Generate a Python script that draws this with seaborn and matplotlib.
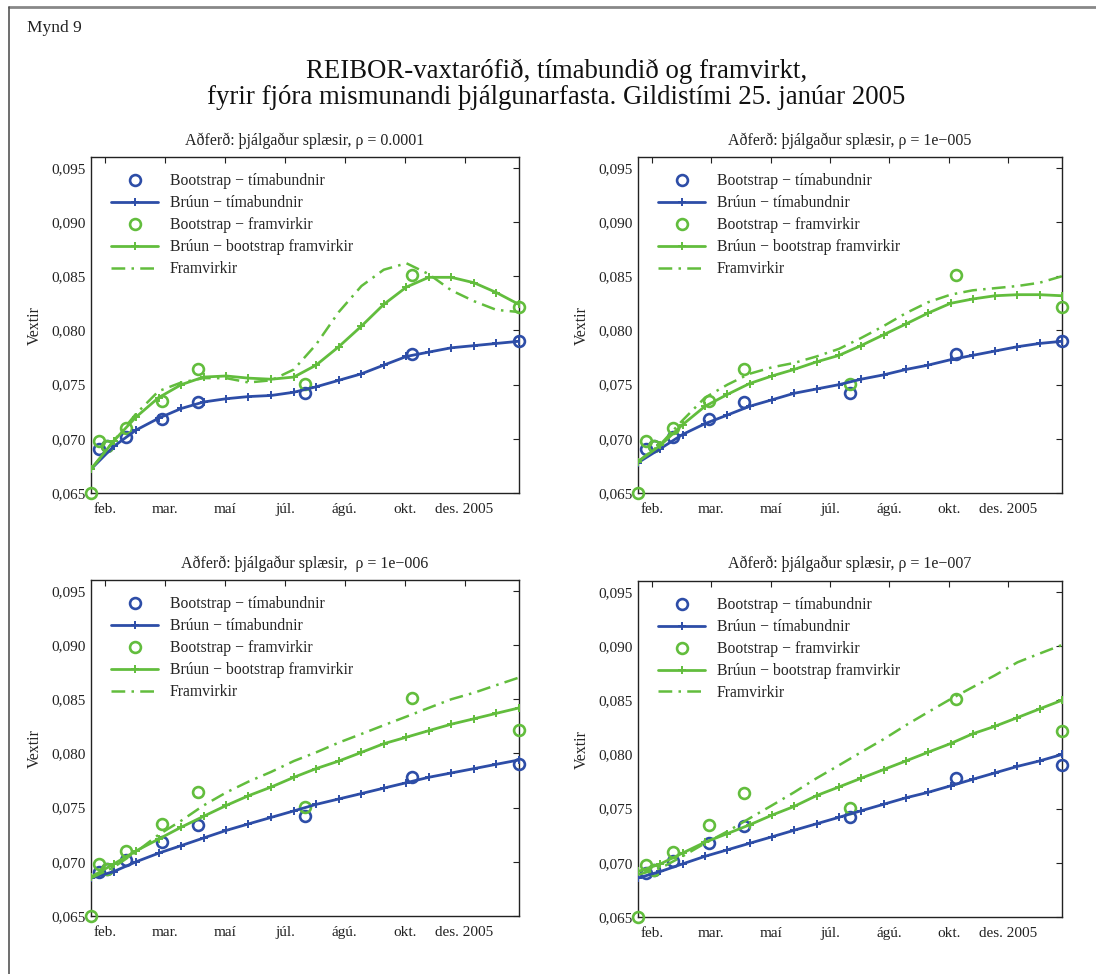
import numpy as np
import seaborn as sns
import matplotlib
matplotlib.use("Agg")
from matplotlib import pyplot as plt
from matplotlib.lines import Line2D
from matplotlib.ticker import FuncFormatter

# time axis in years from 25. jan 2005
tenor_t = [0.0, 0.019, 0.038, 0.083, 0.167, 0.25, 0.5, 0.75, 1.0]
spot_t = [0.019, 0.038, 0.083, 0.167, 0.25, 0.5, 0.75, 1.0]
grid_t = [0.0, 0.053, 0.105, 0.158, 0.211, 0.263, 0.316, 0.368, 0.421, 0.474,
          0.526, 0.579, 0.632, 0.684, 0.737, 0.789, 0.842, 0.895, 0.947, 1.0]

# bootstrap points (same in all panels)
boot_spot = [0.0691, 0.0693, 0.0702, 0.0718, 0.0734, 0.0742, 0.0778, 0.0790]
boot_fwd = [0.0650, 0.0698, 0.0693, 0.0710, 0.0735, 0.0764, 0.0751, 0.0851, 0.0822]

# rho = 0.0001
spot_fit_1 = [0.0672, 0.0693, 0.0708, 0.0719, 0.0728, 0.0734, 0.0737, 0.0739, 0.0740, 0.0743,
              0.0748, 0.0754, 0.0760, 0.0768, 0.0776, 0.0780, 0.0784, 0.0786, 0.0788, 0.0790]
fwd_fit_1 = [0.0672, 0.0698, 0.0720, 0.0738, 0.0750, 0.0757, 0.0758, 0.0756, 0.0755, 0.0757,
             0.0768, 0.0785, 0.0804, 0.0824, 0.0840, 0.0849, 0.0849, 0.0844, 0.0835, 0.0824]
fwd_curve_1 = [0.0672, 0.0698, 0.0723, 0.0744, 0.0752, 0.0756, 0.0756, 0.0752, 0.0754, 0.0764,
               0.0787, 0.0817, 0.0841, 0.0856, 0.0862, 0.0852, 0.0837, 0.0827, 0.0819, 0.0817]

# rho = 1e-005
spot_fit_2 = [0.0678, 0.0691, 0.0704, 0.0714, 0.0722, 0.0730, 0.0736, 0.0742, 0.0746, 0.0750,
              0.0755, 0.0759, 0.0764, 0.0768, 0.0773, 0.0777, 0.0781, 0.0785, 0.0788, 0.0790]
fwd_fit_2 = [0.0679, 0.0694, 0.0713, 0.0730, 0.0741, 0.0751, 0.0758, 0.0764, 0.0771, 0.0777,
             0.0786, 0.0796, 0.0806, 0.0816, 0.0825, 0.0829, 0.0832, 0.0833, 0.0833, 0.0832]
fwd_curve_2 = [0.0679, 0.0695, 0.0717, 0.0738, 0.0750, 0.0760, 0.0766, 0.0770, 0.0776, 0.0783,
               0.0793, 0.0804, 0.0816, 0.0826, 0.0833, 0.0837, 0.0839, 0.0841, 0.0844, 0.0850]

# rho = 1e-006
spot_fit_3 = [0.0685, 0.0691, 0.0700, 0.0708, 0.0715, 0.0722, 0.0729, 0.0735, 0.0741, 0.0747,
              0.0753, 0.0758, 0.0763, 0.0768, 0.0773, 0.0778, 0.0782, 0.0786, 0.0790, 0.0794]
fwd_fit_3 = [0.0686, 0.0698, 0.0710, 0.0721, 0.0732, 0.0742, 0.0752, 0.0761, 0.0769, 0.0778,
             0.0786, 0.0793, 0.0801, 0.0809, 0.0815, 0.0821, 0.0827, 0.0832, 0.0837, 0.0842]
fwd_curve_3 = [0.0685, 0.0695, 0.0709, 0.0725, 0.0738, 0.0752, 0.0764, 0.0774, 0.0783, 0.0793,
               0.0801, 0.0810, 0.0818, 0.0826, 0.0834, 0.0842, 0.0850, 0.0856, 0.0863, 0.0870]

# rho = 1e-007
spot_fit_4 = [0.0686, 0.0692, 0.0699, 0.0706, 0.0712, 0.0718, 0.0724, 0.0730, 0.0736, 0.0742,
              0.0748, 0.0754, 0.0760, 0.0765, 0.0771, 0.0777, 0.0783, 0.0789, 0.0794, 0.0800]
fwd_fit_4 = [0.0692, 0.0699, 0.0709, 0.0719, 0.0727, 0.0735, 0.0744, 0.0752, 0.0762, 0.0770,
             0.0778, 0.0786, 0.0794, 0.0802, 0.0810, 0.0819, 0.0826, 0.0834, 0.0842, 0.0850]
fwd_curve_4 = [0.0689, 0.0695, 0.0706, 0.0718, 0.0729, 0.0741, 0.0753, 0.0765, 0.0778, 0.0790,
               0.0802, 0.0814, 0.0827, 0.0839, 0.0851, 0.0862, 0.0873, 0.0885, 0.0893, 0.0901]

panel_titles = ["Aðferð: þjálgaður splæsir, ρ = 0.0001",
                "Aðferð: þjálgaður splæsir, ρ = 1e−005",
                "Aðferð: þjálgaður splæsir,  ρ = 1e−006",
                "Aðferð: þjálgaður splæsir, ρ = 1e−007"]
legend_labels = ["Bootstrap − tímabundnir", "Brúun − tímabundnir",
                 "Bootstrap − framvirkir", "Brúun − bootstrap framvirkir", "Framvirkir"]
month_ticks = [0.033, 0.173, 0.313, 0.453, 0.593, 0.733, 0.873]
month_labels = ["feb.", "mar.", "maí", "júl.", "ágú.", "okt.", "des. 2005"]
y_ticks = [0.065, 0.070, 0.075, 0.080, 0.085, 0.090, 0.095]

panels = [
    (panel_titles[0], spot_fit_1, fwd_fit_1, fwd_curve_1),
    (panel_titles[1], spot_fit_2, fwd_fit_2, fwd_curve_2),
    (panel_titles[2], spot_fit_3, fwd_fit_3, fwd_curve_3),
    (panel_titles[3], spot_fit_4, fwd_fit_4, fwd_curve_4),
]

sns.set_style("white")
plt.rcParams["font.family"] = ["Liberation Serif", "DejaVu Serif"]

BLUE = "#2D4DA7"
GREEN = "#62BD3D"

fig = plt.figure(figsize=(10.96, 9.74), dpi=100)

# axes rects in figure fractions
rects = [
    (0.0830, 0.4938, 0.3905, 0.345),
    (0.5821, 0.4938, 0.3869, 0.345),
    (0.0830, 0.0595, 0.3905, 0.345),
    (0.5821, 0.0585, 0.3869, 0.345),
]

for rect, (title, spot_fit, fwd_fit, fwd_curve) in zip(rects, panels):
    ax = fig.add_axes(rect)
    sns.lineplot(x=spot_t, y=boot_spot, ax=ax, color=BLUE, marker="o", linestyle="none",
                 markersize=7.8, markerfacecolor="none", markeredgecolor=BLUE,
                 markeredgewidth=1.9, label=legend_labels[0], clip_on=False, zorder=3)
    sns.lineplot(x=grid_t, y=spot_fit, ax=ax, color=BLUE, marker="+", linewidth=2.0,
                 markersize=6, markeredgewidth=1.4, markeredgecolor=BLUE,
                 label=legend_labels[1], zorder=4)
    sns.lineplot(x=tenor_t, y=boot_fwd, ax=ax, color=GREEN, marker="o", linestyle="none",
                 markersize=7.8, markerfacecolor="none", markeredgecolor=GREEN,
                 markeredgewidth=1.9, label=legend_labels[2], clip_on=False, zorder=3)
    sns.lineplot(x=grid_t, y=fwd_fit, ax=ax, color=GREEN, marker="+", linewidth=2.0,
                 markersize=6, markeredgewidth=1.4, markeredgecolor=GREEN,
                 label=legend_labels[3], zorder=5)
    sns.lineplot(x=grid_t, y=fwd_curve, ax=ax, color=GREEN, linewidth=1.8,
                 linestyle=(0, (5.5, 2.5, 1, 2.5)), label=legend_labels[4], zorder=4)

    ax.set_xlim(0, 1)
    ax.set_ylim(0.065, 0.096)
    ax.set_xticks(month_ticks)
    ax.set_xticklabels(month_labels)
    ax.set_yticks(y_ticks)
    ax.yaxis.set_major_formatter(FuncFormatter(lambda v, p: f"{v:.3f}".replace(".", ",")))
    ax.tick_params(direction="in", top=True, right=True, length=4, width=0.8,
                   labelsize=11, colors="#222222")
    ax.tick_params(axis="x", pad=7)
    ax.tick_params(axis="y", pad=4)
    for sp in ax.spines.values():
        sp.set_color("#222222")
        sp.set_linewidth(1.0)
    ax.set_xlabel("")
    ax.set_ylabel("Vextir", fontsize=11.5, labelpad=6)
    ax.set_title(title, fontsize=11.5, pad=9, color="#222222")
    ax.legend(loc="upper left", bbox_to_anchor=(0.025, 0.98), frameon=False,
              fontsize=11.3, handlelength=3.0, handletextpad=0.75, labelspacing=0.38,
              borderaxespad=0.2)

fig.text(27 / 1096, 1 - 28 / 974, "Mynd 9", fontsize=12.5, va="center", ha="left",
         color="#222222")
fig.text(0.508, 1 - 71 / 974, "REIBOR-vaxtarófið, tímabundið og framvirkt,",
         fontsize=19.3, ha="center", va="center", color="#111111")
fig.text(0.507, 1 - 97 / 974, "fyrir fjóra mismunandi þjálgunarfasta. Gildistími 25. janúar 2005",
         fontsize=19.3, ha="center", va="center", color="#111111")

# page frame lines
fig.add_artist(Line2D([9 / 1096, 1.0], [1 - 7 / 974, 1 - 7 / 974], color="#888888",
                      linewidth=2.0, transform=fig.transFigure))
fig.add_artist(Line2D([9 / 1096, 9 / 1096], [0.0, 1 - 7 / 974], color="#555555",
                      linewidth=1.2, transform=fig.transFigure))

fig.savefig("out.png", dpi=100)
